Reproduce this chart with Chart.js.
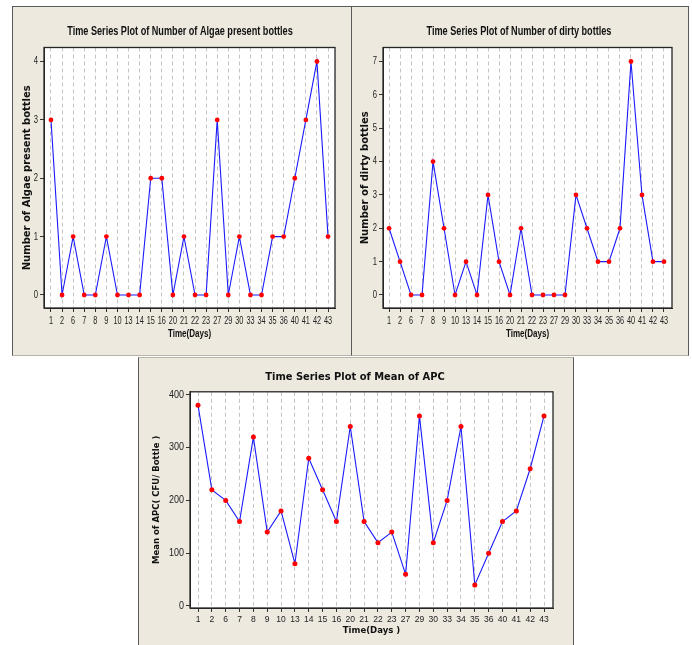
<!DOCTYPE html>
<html><head><meta charset="utf-8">
<script src="https://cdn.jsdelivr.net/npm/chart.js@4.4.1/dist/chart.umd.min.js"></script>
<style>
html,body{margin:0;padding:0;background:#fff;}
body{width:692px;height:645px;position:relative;overflow:hidden;}
.panel{position:absolute;background:#EDE9DF;box-sizing:border-box;border:1px solid #5a5a5a;}
canvas{position:absolute;display:block;}
</style></head><body>
<div class="panel" style="left:12px;top:6px;width:340px;height:350px;border-bottom-color:#b8b4aa;"></div>
<div class="panel" style="left:351px;top:6px;width:338px;height:350px;border-bottom-color:#b8b4aa;"></div>
<div class="panel" style="left:138px;top:357px;width:436px;height:290px;border-top-color:#b8b4aa;"></div>
<canvas id="c1" width="339" height="349" style="left:12px;top:6px;"></canvas>
<canvas id="c2" width="337" height="349" style="left:351px;top:6px;"></canvas>
<canvas id="c3" width="435" height="288" style="left:138px;top:357px;"></canvas>
<script>
// ---- data ----
const days = ['1','2','6','7','8','9','10','13','14','15','16','20','21','22','23','27','29','30','33','34','35','36','40','41','42','43'];
const algaePresent = [3,0,1,0,0,1,0,0,0,2,2,0,1,0,0,3,0,1,0,0,1,1,2,3,4,1];
const dirtyBottles = [2,1,0,0,4,2,0,1,0,3,1,0,2,0,0,0,0,3,2,1,1,2,7,3,1,1];
const meanAPC = [380,220,200,160,320,140,180,80,280,220,160,340,160,120,140,60,360,120,200,340,40,100,160,180,260,360];
const algaeTicks = [0,1,2,3,4];
const dirtyTicks = [0,1,2,3,4,5,6,7];
const apcTicks = [0,100,200,300,400];

// Horizontal (unrotated) text is drawn condensed, like the narrow font of the original.
function condenseText(canvas, sx){
  const ctx = canvas.getContext('2d');
  const orig = ctx.fillText;
  ctx.fillText = function(t, x, y, m){
    const tr = this.getTransform();
    if (Math.abs(tr.b) > 1e-6) {
      return (m === undefined) ? orig.call(this, t, x, y) : orig.call(this, t, x, y, m);
    }
    this.save(); this.translate(x, y); this.scale(sx, 1);
    if (m === undefined) orig.call(this, t, 0, 0); else orig.call(this, t, 0, 0, m / sx);
    this.restore();
  };
}

const framePlugin = {
  id:'frame',
  beforeDraw(chart){
    const a=chart.chartArea, ctx=chart.ctx;
    ctx.save(); ctx.fillStyle='#ffffff'; ctx.fillRect(a.left,a.top,a.right-a.left,a.bottom-a.top); ctx.restore();
  },
  beforeDatasetsDraw(chart){
    const a=chart.chartArea, ctx=chart.ctx;
    ctx.save(); ctx.strokeStyle='#262626'; ctx.lineWidth=1.3; ctx.setLineDash([]);
    ctx.strokeRect(a.left,a.top,a.right-a.left,a.bottom-a.top); ctx.restore();
  }
};

function makeChart(id, g){
  const canvas = document.getElementById(id);
  condenseText(canvas, g.sx);
  const pts = g.values.map((v,i)=>({x:i,y:v}));
  return new Chart(canvas, {
    type:'line',
    data:{datasets:[{data:pts, yAxisID:'y', borderColor:'#1a1aff', borderWidth:1.1, backgroundColor:'#ff0000',
      pointBackgroundColor:'#ff0000', pointBorderWidth:0, pointRadius:g.pr, tension:0}]},
    plugins:[framePlugin],
    options:{
      responsive:false, animation:false, events:[],
      layout:{padding:{left:0,right:g.padRight,top:0,bottom:0}},
      plugins:{legend:{display:false}, tooltip:{enabled:false},
        title:{display:true, text:g.title, color:'#111', font:g.titleFont, padding:g.titlePad}},
      scales:{
        x:{type:'linear', min:g.xmin, max:g.xmax,
          afterBuildTicks(s){ s.ticks = days.map((d,i)=>({value:i})); },
          afterFit(s){ s.height = g.xH; },
          ticks:{autoSkip:false, maxRotation:0, minRotation:0, padding:g.xTickPad, color:'#222', font:g.tickFont,
            callback:(v)=>days[v]},
          grid:{display:true, drawOnChartArea:true, color:'#c4c4c4', lineWidth:1, tickLength:4, tickColor:'#333', tickBorderDash:[1,0], tickWidth:1},
          border:{display:true, color:'#262626', dash:[4,3]},
          title:{display:true, text:g.xTitle, color:'#111', font:g.xTitleFont, padding:{top:0,bottom:g.xTitlePad}}
        },
        y:{type:'linear', min:g.ymin, max:g.ymax,
          afterBuildTicks(s){ s.ticks = g.yTicks.map(v=>({value:v})); },
          afterFit(s){ s.width = g.yW; },
          ticks:{padding:g.yTickPad, color:'#222', font:g.yTickFont},
          grid:{display:true, drawOnChartArea:false, tickLength:4, tickColor:'#333', tickWidth:1},
          border:{display:true, color:'#262626'},
          title:{display:true, text:g.yTitle, color:'#111', font:g.yTitleFont, padding:{top:g.yTitlePad,bottom:0}}
        },
        // empty right margin of the plot (keeps the chart title centred on the panel)
        yRight:{type:'linear', position:'right', min:0, max:1, display:true,
          afterFit(s){ s.width = g.rightW; },
          ticks:{display:false}, grid:{display:false, drawTicks:false}, border:{display:false}, title:{display:false}}
      }
    }
  });
}

const LIB = '"Liberation Sans", Arial, sans-serif';
const DJV = '"DejaVu Sans", Verdana, sans-serif';
const topTick = {family:LIB, size:10};
const topYTick = {family:LIB, size:10.5};
makeChart('c1', {
  sx:0.73,
  values:algaePresent, yTicks:algaeTicks, ymin:-0.223, ymax:4.24, xmin:-0.63, xmax:25.63,
  title:'Time Series Plot of Number of Algae present bottles',
  titleFont:{family:LIB, size:12.5, weight:'bold'}, titlePad:{top:18.5,bottom:8},
  xTitle:'Time(Days)', xTitleFont:{family:LIB, size:11, weight:'bold'}, xTitlePad:14.4,
  yTitle:'Number of Algae present bottles', yTitleFont:{family:DJV, size:10, weight:'bold'}, yTitlePad:9,
  tickFont:topTick, yTickFont:topYTick, xTickPad:3, yTickPad:2,
  padRight:3, rightW:13, xH:47, yW:32, pr:2.4
});
makeChart('c2', {
  sx:0.73,
  values:dirtyBottles, yTicks:dirtyTicks, ymin:-0.39, ymax:7.42, xmin:-0.55, xmax:25.73,
  title:'Time Series Plot of Number of dirty bottles',
  titleFont:{family:LIB, size:12.5, weight:'bold'}, titlePad:{top:18.5,bottom:8},
  xTitle:'Time(Days)', xTitleFont:{family:LIB, size:11, weight:'bold'}, xTitlePad:14.4,
  yTitle:'Number of dirty bottles', yTitleFont:{family:DJV, size:10, weight:'bold'}, yTitlePad:8,
  tickFont:topTick, yTickFont:topYTick, xTickPad:3, yTickPad:2,
  padRight:1, rightW:15, xH:47, yW:32, pr:2.4
});
makeChart('c3', {
  sx:0.9,
  values:meanAPC, yTicks:apcTicks, ymin:-3.8, ymax:405.7, xmin:-0.58, xmax:25.65,
  title:'Time Series Plot of Mean of APC',
  titleFont:{family:DJV, size:11, weight:'bold'}, titlePad:{top:14,bottom:7.6},
  xTitle:'Time(Days )', xTitleFont:{family:DJV, size:9.5, weight:'bold'}, xTitlePad:9.2,
  yTitle:'Mean of APC( CFU/ Bottle )', yTitleFont:{family:DJV, size:8.5, weight:'bold'}, yTitlePad:13.8,
  tickFont:{family:LIB, size:9.5}, yTickFont:{family:LIB, size:10}, xTickPad:1.5, yTickPad:2,
  padRight:1, rightW:19, xH:37, yW:52, pr:2.5
});
</script>
</body></html>
